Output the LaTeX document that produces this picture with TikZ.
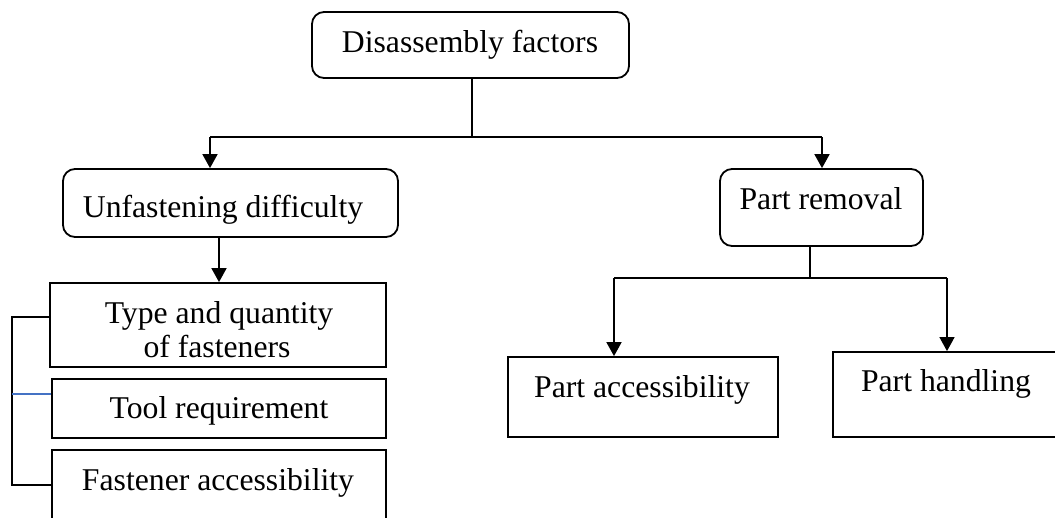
\documentclass[tikz,border=0pt]{standalone}
\usepackage{fontspec}
\setmainfont{Liberation Serif}
\usetikzlibrary{arrows.meta}
\definecolor{linkblue}{RGB}{68,114,196}
\newcommand\lblfont{\fontsize{31.7}{36}\selectfont}
\begin{document}
\begin{tikzpicture}[x=1pt,y=-1pt,
  frame/.style={draw=black,line width=1.8pt,inner sep=0pt,fill=none},
  roundframe/.style={frame,rounded corners=12pt},
  lbl/.style={inner sep=0pt,anchor=base,font=\lblfont},
  link/.style={draw=black,line width=1.8pt},
  arr/.style={link,-{Triangle[width=15pt,length=14pt]}},
  thinarr/.style={draw=black,line width=1.2pt,-{Triangle[width=15pt,length=14pt]}},
  bracket/.style={draw=black,line width=1.5pt},
  bluelink/.style={draw=linkblue,line width=1.2pt}]
\useasboundingbox (0,0) rectangle (1055,517);
\clip (0,0) rectangle (1055,517);

% boxes
\node[roundframe,minimum width=317pt,minimum height=66pt] (top)   at (470.5,45)  {};
\node[roundframe,minimum width=335pt,minimum height=68pt] (unf)   at (230.5,203) {};
\node[roundframe,minimum width=203pt,minimum height=77pt] (rem)   at (821.5,207.5) {};
\node[frame,minimum width=336pt,minimum height=84pt]      (typ)   at (218,325)   {};
\node[frame,minimum width=334pt,minimum height=59pt]      (tool)  at (219,408.5) {};
\node[frame,minimum width=334pt,minimum height=80pt]      (fast)  at (219,490)   {};
\node[frame,minimum width=270pt,minimum height=80pt]      (pacc)  at (643,397)   {};
\node[frame,minimum width=225pt,minimum height=85pt]      (phand) at (945.5,394.5) {};

% labels
\node[lbl] (toptxt)   at (470,52)  {Disassembly factors};
\node[lbl] (unftxt)   at (223,217) {Unfastening difficulty};
\node[lbl] (remtxt)   at (821,209) {Part removal};
\node[lbl] (typtxta)  at (219,323) {Type and quantity};
\node[lbl] (typtxtb)  at (217,357) {of fasteners};
\node[lbl] (tooltxt)  at (219,418) {Tool requirement};
\node[lbl] (fasttxt)  at (218,490) {Fastener accessibility};
\node[lbl] (pacctxt)  at (642,397) {Part accessibility};
\node[lbl] (phandtxt) at (946,391) {Part handling};

% first level split
\coordinate (j1) at (472,137);
\coordinate (bl) at (210,137);
\coordinate (br) at (822,137);
\draw[link] (top.south -| j1) -- (j1);
\draw[link] (bl) -- (br);
\draw[arr] (bl) -- (bl |- unf.north);
\draw[arr] (br) -- (br |- rem.north);

% unfastening branch
\coordinate (ua) at (219,0);
\draw[arr] (ua |- unf.south) -- (ua |- typ.north);

% part removal branch
\coordinate (j2) at (810,278);
\coordinate (cl) at (614,278);
\coordinate (cr) at (947,278);
\draw[link] (rem.south -| j2) -- (j2);
\draw[link] (cl) -- (cr);
\draw[arr] (cl) -- (cl |- pacc.north);
\draw[thinarr] (cr) -- (cr |- phand.north);

% side bracket
\coordinate (kt) at (12,317);
\coordinate (kb) at (12,485);
\coordinate (km) at (12,394);
\draw[bracket] (kt -| typ.west) -- (kt) -- (kb) -- (kb -| fast.west);
\draw[bluelink] (km) -- (km -| tool.west);
\end{tikzpicture}
\end{document}
